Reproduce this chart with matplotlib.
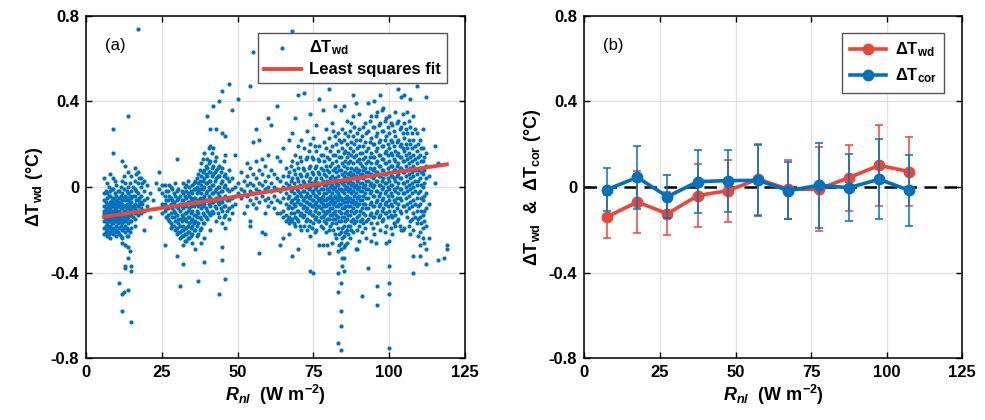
"""Two-panel figure: raw dT_wd scatter vs R_nl with LS fit, and binned means +/- std."""

import matplotlib

matplotlib.use("Agg")
import matplotlib.pyplot as plt  # noqa: E402
import numpy as np  # noqa: E402

BLUE = "#0072BD"
RED = "#E8473A"

# panel (a): scatter, one entry per R_nl column -> dT_wd values
scatter_cols = [
    (6, [0.04, -0.03, -0.06, -0.09, -0.11, -0.12, -0.14, -0.16, -0.19, -0.22]),
    (7, [0.02, -0.03, -0.05, -0.08, -0.10, -0.11, -0.12, -0.13, -0.14, -0.15, -0.17, -0.18, -0.20, -0.23]),
    (8, [0.06, -0.02, -0.04, -0.07, -0.09, -0.10, -0.12, -0.13, -0.14, -0.15, -0.16, -0.18, -0.21, -0.24]),
    (9, [0.27, 0.16, 0.04, -0.01, -0.05, -0.07, -0.09, -0.11, -0.12, -0.13, -0.15, -0.17, -0.19, -0.22]),
    (10, [0.01, -0.04, -0.06, -0.08, -0.10, -0.11, -0.13, -0.14, -0.16, -0.18, -0.20, -0.23]),
    (11, [-0.02, -0.05, -0.07, -0.09, -0.11, -0.12, -0.14, -0.16, -0.19, -0.22, -0.45]),
    (12, [0.12, 0.03, -0.03, -0.06, -0.08, -0.10, -0.12, -0.13, -0.15, -0.17, -0.20, -0.24, -0.26, -0.50, -0.58]),
    (13, [0.10, 0.02, -0.04, -0.06, -0.09, -0.11, -0.12, -0.14, -0.16, -0.18, -0.21, -0.27, -0.37, -0.38]),
    (14, [0.33, 0.07, 0.00, -0.03, -0.06, -0.08, -0.10, -0.12, -0.14, -0.17, -0.20, -0.23, -0.28, -0.33, -0.48]),
    (15, [0.05, -0.02, -0.05, -0.07, -0.10, -0.12, -0.13, -0.16, -0.19, -0.39, -0.37, -0.63]),
    (16, [0.09, 0.03, -0.01, -0.04, -0.08, -0.10, -0.12, -0.15, -0.18]),
    (17, [0.74, 0.07, 0.02, -0.03, -0.06, -0.09, -0.11, -0.13]),
    (18, [0.04, 0.00, -0.04, -0.07, -0.10, -0.12]),
    (19, [0.03, -0.02, -0.06, -0.11, -0.20]),
    (20, [0.01, -0.05, -0.09]),
    (21, [-0.03, -0.14]),
    (22, [-0.06]),
    (23, [0.02]),
    (24, [0.07, -0.01]),
    (25, [0.01, -0.03, -0.08, -0.12]),
    (26, [0.01, -0.04, -0.08, -0.11, -0.27]),
    (27, [-0.02, -0.06, -0.10, -0.13, -0.15]),
    (28, [0.00, -0.05, -0.08, -0.12, -0.17, -0.19]),
    (29, [-0.03, -0.07, -0.11, -0.14, -0.18]),
    (30, [0.13, -0.02, -0.06, -0.09, -0.13, -0.19, -0.22, -0.32]),
    (31, [-0.04, -0.08, -0.11, -0.15, -0.18, -0.21, -0.24, -0.46]),
    (32, [0.02, -0.03, -0.06, -0.10, -0.14, -0.18, -0.20, -0.23, -0.27, -0.36]),
    (33, [0.01, -0.02, -0.05, -0.09, -0.12, -0.16, -0.19, -0.22, -0.25]),
    (34, [0.00, -0.04, -0.07, -0.10, -0.14, -0.17, -0.21, -0.24]),
    (35, [0.01, -0.03, -0.06, -0.11, -0.15, -0.18, -0.22, -0.26]),
    (36, [0.03, -0.01, -0.05, -0.08, -0.13, -0.16, -0.20, -0.29]),
    (37, [0.06, 0.02, -0.02, -0.06, -0.09, -0.12, -0.17, -0.22, -0.44]),
    (38, [0.11, 0.05, 0.01, -0.03, -0.07, -0.10, -0.15, -0.19, -0.26]),
    (39, [0.16, 0.08, 0.04, 0.00, -0.04, -0.08, -0.13, -0.17, -0.24, -0.35]),
    (40, [0.33, 0.13, 0.09, 0.05, 0.02, -0.02, -0.06, -0.11, -0.15]),
    (41, [0.27, 0.19, 0.12, 0.07, 0.03, -0.01, -0.05, -0.09, -0.13, -0.20]),
    (42, [0.38, 0.18, 0.10, 0.06, 0.01, -0.03, -0.07, -0.12]),
    (43, [0.27, 0.14, 0.08, 0.04, -0.01, -0.05, -0.10, -0.16]),
    (44, [0.40, 0.10, 0.05, 0.00, -0.04, -0.08, -0.14, -0.50]),
    (45, [0.45, 0.25, 0.09, 0.03, -0.02, -0.07, -0.11, -0.17, -0.28, -0.34]),
    (46, [0.24, 0.15, 0.06, 0.01, -0.04, -0.09, -0.13, -0.19, -0.43]),
    (47, [0.48, 0.08, 0.03, -0.02, -0.06, -0.10, -0.15]),
    (48, [0.36, 0.04, -0.01, -0.05, -0.09, -0.12]),
    (49, [0.15, 0.00, -0.04, -0.08]),
    (50, [0.41, 0.02, -0.03]),
    (51, [0.07, -0.01, -0.05]),
    (52, [0.03, -0.02, -0.12]),
    (53, [0.11, 0.05, 0.01, -0.04, -0.09]),
    (54, [0.47, 0.09, 0.02, -0.02, -0.06, -0.16, -0.18]),
    (55, [0.63, 0.21, 0.06, 0.01, -0.03, -0.08]),
    (56, [0.27, 0.12, 0.04, -0.01, -0.05, -0.10]),
    (57, [0.22, 0.08, 0.02, -0.02, -0.07, -0.31]),
    (58, [0.54, 0.13, 0.06, 0.01, -0.04, -0.21]),
    (59, [0.10, 0.03, -0.01, -0.06, -0.12, -0.22]),
    (60, [0.32, 0.15, 0.05, 0.00, -0.05, -0.09]),
    (61, [0.29, 0.08, 0.02, -0.02, -0.07]),
    (62, [0.06, 0.00, -0.04, -0.10]),
    (63, [0.38, 0.14, 0.04, -0.01, -0.06, -0.12]),
    (64, [0.12, 0.03, -0.02, -0.07, -0.12, -0.27]),
    (65, [0.18, 0.05, 0.00, -0.05, -0.11, -0.14, -0.24]),
    (66, [0.09, 0.02, -0.03, -0.08, -0.13, -0.16]),
    (67, [0.22, 0.07, 0.01, -0.04, -0.09, -0.14, -0.17, -0.22]),
    (68, [0.73, 0.25, 0.12, 0.04, -0.01, -0.06, -0.10, -0.15, -0.32]),
    (69, [0.32, 0.15, 0.06, 0.00, -0.05, -0.09, -0.14, -0.18]),
    (70, [0.43, 0.19, 0.09, 0.03, -0.02, -0.06, -0.11, -0.16, -0.29]),
    (71, [0.22, 0.12, 0.05, 0.00, -0.04, -0.08, -0.12, -0.20]),
    (72, [0.44, 0.18, 0.08, 0.02, -0.02, -0.05, -0.09, -0.13, -0.18]),
    (73, [0.26, 0.14, 0.06, 0.01, -0.03, -0.07, -0.10, -0.15, -0.20]),
    (74, [0.34, 0.20, 0.10, 0.04, 0.00, -0.04, -0.08, -0.11, -0.16, -0.23, -0.39]),
    (75, [0.23, 0.13, 0.06, 0.01, -0.03, -0.06, -0.09, -0.13, -0.17, -0.40]),
    (76, [0.29, 0.17, 0.10, 0.04, 0.00, -0.04, -0.07, -0.10, -0.14, -0.20]),
    (77, [0.41, 0.19, 0.12, 0.06, 0.01, -0.03, -0.06, -0.09, -0.12, -0.16, -0.27]),
    (78, [0.36, 0.15, 0.08, 0.03, -0.01, -0.04, -0.08, -0.11, -0.14, -0.19, -0.27]),
    (79, [0.27, 0.18, 0.10, 0.05, 0.01, -0.03, -0.06, -0.09, -0.12, -0.17, -0.21]),
    (80, [0.46, 0.23, 0.13, 0.07, 0.02, -0.02, -0.05, -0.08, -0.11, -0.15, -0.20, -0.31]),
    (81, [0.30, 0.19, 0.11, 0.05, 0.01, -0.03, -0.06, -0.10, -0.13, -0.17, -0.26]),
    (82, [0.38, 0.24, 0.15, 0.09, 0.04, 0.00, -0.04, -0.07, -0.11, -0.15, -0.22]),
    (83, [0.25, 0.17, 0.10, 0.05, 0.01, -0.03, -0.06, -0.09, -0.14, -0.19, -0.30, -0.40, -0.49, -0.73]),
    (84, [0.36, 0.21, 0.14, 0.08, 0.03, -0.01, -0.05, -0.08, -0.12, -0.16, -0.21, -0.26, -0.29,
          -0.45, -0.58, -0.65, -0.76]),
    (85, [0.38, 0.22, 0.16, 0.10, 0.05, 0.01, -0.03, -0.07, -0.10, -0.14, -0.18, -0.23, -0.28, -0.33, -0.39]),
    (86, [0.31, 0.20, 0.14, 0.09, 0.04, 0.00, -0.04, -0.07, -0.11, -0.15, -0.20, -0.26]),
    (87, [0.26, 0.18, 0.12, 0.07, 0.03, -0.01, -0.05, -0.09, -0.13, -0.18, -0.24]),
    (88, [0.43, 0.33, 0.24, 0.17, 0.11, 0.06, 0.02, -0.02, -0.06, -0.10, -0.15, -0.21]),
    (89, [0.39, 0.22, 0.15, 0.09, 0.05, 0.01, -0.03, -0.07, -0.11, -0.16, -0.29]),
    (90, [0.34, 0.27, 0.19, 0.13, 0.08, 0.04, 0.00, -0.04, -0.08, -0.13, -0.18, -0.25]),
    (91, [0.24, 0.16, 0.10, 0.06, 0.02, -0.02, -0.06, -0.10, -0.15, -0.21, -0.51]),
    (92, [0.30, 0.21, 0.14, 0.09, 0.05, 0.01, -0.03, -0.08, -0.13, -0.19]),
    (93, [0.39, 0.26, 0.18, 0.12, 0.07, 0.03, -0.01, -0.05, -0.10, -0.15, -0.38]),
    (94, [0.33, 0.23, 0.16, 0.11, 0.06, 0.02, -0.02, -0.07, -0.12, -0.17, -0.25]),
    (95, [0.40, 0.28, 0.20, 0.14, 0.09, 0.05, 0.01, -0.04, -0.09, -0.14, -0.22]),
    (96, [0.35, 0.25, 0.18, 0.12, 0.07, 0.03, -0.02, -0.06, -0.11, -0.17, -0.46, -0.55]),
    (97, [0.43, 0.30, 0.22, 0.15, 0.10, 0.05, 0.01, -0.03, -0.08, -0.13, -0.20]),
    (98, [0.37, 0.26, 0.19, 0.13, 0.08, 0.04, 0.00, -0.05, -0.10, -0.15]),
    (99, [0.49, 0.32, 0.24, 0.17, 0.11, 0.06, 0.02, -0.02, -0.07, -0.12, -0.18, -0.26]),
    (100, [0.33, 0.25, 0.18, 0.12, 0.07, 0.03, -0.01, -0.06, -0.11, -0.25, -0.37, -0.45, -0.50, -0.75]),
    (101, [0.29, 0.21, 0.15, 0.10, 0.05, 0.01, -0.04, -0.09, -0.14, -0.22]),
    (102, [0.35, 0.24, 0.17, 0.12, 0.08, 0.03, -0.02, -0.07, -0.13, -0.18]),
    (103, [0.46, 0.31, 0.22, 0.16, 0.11, 0.06, 0.02, -0.03, -0.08, -0.15]),
    (104, [0.42, 0.28, 0.20, 0.14, 0.09, 0.04, -0.01, -0.06, -0.12, -0.20]),
    (105, [0.43, 0.30, 0.23, 0.17, 0.12, 0.07, 0.02, -0.03, -0.09, -0.19]),
    (106, [0.35, 0.25, 0.18, 0.13, 0.08, 0.03, -0.02, -0.08, -0.14]),
    (107, [0.41, 0.28, 0.20, 0.14, 0.09, 0.04, -0.01, -0.07, -0.16, -0.22]),
    (108, [0.33, 0.22, 0.15, 0.10, 0.05, 0.00, -0.06, -0.12, -0.20, -0.32, -0.40]),
    (109, [0.47, 0.25, 0.17, 0.11, 0.06, 0.01, -0.05, -0.11, -0.17]),
    (110, [0.22, 0.15, 0.09, 0.04, -0.02, -0.08, -0.14, -0.21, -0.27, -0.32]),
    (111, [0.27, 0.18, 0.12, 0.06, 0.00, -0.06, -0.13, -0.19, -0.24]),
    (112, [0.42, 0.16, 0.10, 0.04, -0.03, -0.10, -0.18, -0.29, -0.36]),
    (113, [0.05, -0.08, -0.24]),
    (115, [0.19, 0.02]),
    (116, [0.11, -0.34]),
    (118, [-0.33]),
    (119, [-0.27, -0.29]),
]

# points lying between the columns above, where the cloud is dense
scatter_cols_mid = [
    (6.5, [-0.02, -0.07, -0.10, -0.13, -0.15, -0.18, -0.21]),
    (7.5, [0.00, -0.04, -0.09, -0.11, -0.12, -0.14, -0.16, -0.19, -0.22]),
    (8.5, [-0.01, -0.06, -0.08, -0.11, -0.13, -0.15, -0.17, -0.20]),
    (9.5, [0.03, -0.03, -0.08, -0.10, -0.12, -0.14, -0.16, -0.21]),
    (10.5, [-0.02, -0.07, -0.09, -0.12, -0.15, -0.17, -0.21]),
    (11.5, [0.00, -0.04, -0.08, -0.10, -0.13, -0.15, -0.18, -0.23]),
    (12.5, [0.05, -0.01, -0.05, -0.09, -0.11, -0.14, -0.16, -0.19, -0.49]),
    (13.5, [-0.02, -0.05, -0.08, -0.10, -0.13, -0.15, -0.19, -0.23]),
    (14.5, [0.02, -0.04, -0.07, -0.09, -0.11, -0.13, -0.16, -0.21, -0.30]),
    (15.5, [0.00, -0.04, -0.09, -0.11, -0.14]),
    (16.5, [0.06, -0.02, -0.06, -0.11]),
    (17.5, [0.04, -0.05, -0.08]),
    (18.5, [0.02, -0.08]),
    (26.5, [-0.02, -0.06, -0.10, -0.14]),
    (27.5, [0.01, -0.04, -0.09, -0.16]),
    (28.5, [-0.01, -0.06, -0.10, -0.14, -0.18]),
    (29.5, [0.02, -0.04, -0.09, -0.12, -0.16, -0.20]),
    (30.5, [-0.01, -0.05, -0.10, -0.15, -0.17, -0.21]),
    (31.5, [-0.02, -0.06, -0.09, -0.13, -0.16, -0.20, -0.23]),
    (32.5, [0.00, -0.04, -0.08, -0.12, -0.15, -0.19, -0.22, -0.25]),
    (33.5, [0.03, -0.03, -0.07, -0.11, -0.14, -0.18, -0.21, -0.24]),
    (34.5, [-0.02, -0.05, -0.09, -0.12, -0.16, -0.19, -0.23]),
    (35.5, [0.02, -0.01, -0.05, -0.09, -0.13, -0.17, -0.20]),
    (36.5, [0.04, 0.00, -0.03, -0.07, -0.11, -0.14, -0.18, -0.23]),
    (37.5, [0.08, 0.03, -0.01, -0.05, -0.08, -0.14, -0.20]),
    (38.5, [0.13, 0.07, 0.03, -0.01, -0.05, -0.09, -0.12, -0.17]),
    (39.5, [0.10, 0.06, 0.02, -0.03, -0.06, -0.10, -0.14]),
    (40.5, [0.18, 0.11, 0.07, 0.03, 0.00, -0.04, -0.08, -0.12]),
    (41.5, [0.16, 0.09, 0.05, 0.01, -0.03, -0.07, -0.11]),
    (42.5, [0.12, 0.07, 0.03, -0.02, -0.06, -0.09]),
    (43.5, [0.09, 0.05, 0.00, -0.03, -0.07, -0.12]),
    (44.5, [0.07, 0.02, -0.02, -0.06, -0.10]),
    (45.5, [0.12, 0.05, 0.00, -0.05, -0.09, -0.14]),
    (46.5, [0.04, -0.01, -0.06, -0.11]),
    (66.5, [0.05, 0.00, -0.05, -0.10, -0.15]),
    (67.5, [0.10, 0.03, -0.02, -0.07, -0.12, -0.16]),
    (68.5, [0.08, 0.02, -0.03, -0.08, -0.12, -0.17]),
    (69.5, [0.11, 0.04, -0.01, -0.04, -0.07, -0.11, -0.15]),
    (70.5, [0.14, 0.06, 0.01, -0.03, -0.08, -0.13, -0.18]),
    (71.5, [0.09, 0.03, -0.02, -0.06, -0.10, -0.14]),
    (72.5, [0.13, 0.05, 0.00, -0.04, -0.07, -0.11, -0.16]),
    (73.5, [0.17, 0.09, 0.03, -0.01, -0.05, -0.08, -0.12, -0.18]),
    (74.5, [0.14, 0.07, 0.02, -0.02, -0.06, -0.09, -0.13, -0.19]),
    (75.5, [0.19, 0.09, 0.03, -0.01, -0.04, -0.08, -0.11, -0.15, -0.21]),
    (76.5, [0.13, 0.07, 0.02, -0.02, -0.05, -0.09, -0.12, -0.16]),
    (77.5, [0.15, 0.09, 0.04, -0.01, -0.05, -0.07, -0.10, -0.14, -0.18]),
    (78.5, [0.21, 0.12, 0.06, 0.01, -0.03, -0.06, -0.09, -0.13, -0.16]),
    (79.5, [0.14, 0.08, 0.03, -0.01, -0.05, -0.08, -0.11, -0.15, -0.27]),
    (80.5, [0.17, 0.10, 0.04, 0.00, -0.04, -0.07, -0.10, -0.13, -0.18]),
    (81.5, [0.26, 0.15, 0.08, 0.03, -0.01, -0.05, -0.08, -0.12, -0.15, -0.20]),
    (82.5, [0.20, 0.12, 0.07, 0.02, -0.02, -0.05, -0.09, -0.13, -0.17, -0.24]),
    (83.5, [0.22, 0.14, 0.08, 0.03, -0.01, -0.04, -0.08, -0.11, -0.16, -0.22, -0.27]),
    (84.5, [0.27, 0.18, 0.11, 0.06, 0.02, -0.02, -0.06, -0.10, -0.14, -0.19, -0.24, -0.33, -0.37]),
    (85.5, [0.25, 0.17, 0.12, 0.07, 0.03, -0.01, -0.05, -0.09, -0.12, -0.16, -0.21, -0.27]),
    (86.5, [0.24, 0.16, 0.11, 0.06, 0.02, -0.02, -0.06, -0.09, -0.13, -0.18, -0.22]),
    (87.5, [0.30, 0.21, 0.15, 0.09, 0.05, 0.01, -0.03, -0.07, -0.11, -0.16, -0.20]),
    (88.5, [0.28, 0.20, 0.14, 0.08, 0.04, 0.00, -0.04, -0.08, -0.12, -0.17]),
    (89.5, [0.25, 0.18, 0.12, 0.07, 0.03, -0.01, -0.05, -0.09, -0.14, -0.20, -0.29]),
    (90.5, [0.22, 0.16, 0.11, 0.06, 0.02, -0.02, -0.06, -0.11, -0.16]),
    (91.5, [0.28, 0.19, 0.13, 0.08, 0.04, 0.00, -0.04, -0.08, -0.12, -0.17]),
    (92.5, [0.25, 0.17, 0.11, 0.07, 0.03, -0.01, -0.05, -0.10, -0.16, -0.24]),
    (93.5, [0.31, 0.21, 0.14, 0.09, 0.05, 0.01, -0.03, -0.08, -0.13]),
    (94.5, [0.28, 0.20, 0.14, 0.08, 0.04, 0.00, -0.04, -0.09, -0.14, -0.19]),
    (95.5, [0.33, 0.24, 0.17, 0.11, 0.07, 0.03, -0.02, -0.07, -0.12, -0.26]),
    (96.5, [0.29, 0.21, 0.15, 0.10, 0.05, 0.01, -0.04, -0.09, -0.14]),
    (97.5, [0.36, 0.26, 0.19, 0.13, 0.08, 0.03, -0.01, -0.06, -0.11, -0.16]),
    (98.5, [0.31, 0.22, 0.16, 0.11, 0.06, 0.02, -0.03, -0.08, -0.12, -0.21]),
    (99.5, [0.28, 0.20, 0.15, 0.09, 0.04, 0.00, -0.04, -0.09, -0.14]),
    (100.5, [0.30, 0.22, 0.16, 0.10, 0.05, 0.01, -0.03, -0.08, -0.13, -0.19]),
    (101.5, [0.26, 0.19, 0.13, 0.08, 0.04, -0.01, -0.06, -0.11, -0.17]),
    (102.5, [0.30, 0.21, 0.15, 0.10, 0.05, 0.00, -0.05, -0.10, -0.16]),
    (103.5, [0.27, 0.19, 0.14, 0.09, 0.04, -0.01, -0.05, -0.11, -0.18]),
    (104.5, [0.34, 0.25, 0.18, 0.12, 0.07, 0.02, -0.03, -0.09, -0.20]),
    (105.5, [0.27, 0.20, 0.15, 0.10, 0.05, 0.00, -0.05, -0.11]),
    (106.5, [0.31, 0.22, 0.16, 0.11, 0.06, 0.01, -0.04, -0.10, -0.18]),
    (107.5, [0.25, 0.18, 0.12, 0.07, 0.02, -0.03, -0.09, -0.15]),
    (108.5, [0.27, 0.19, 0.13, 0.08, 0.03, -0.02, -0.08, -0.14]),
    (109.5, [0.20, 0.14, 0.08, 0.03, -0.03, -0.09, -0.15, -0.23]),
    (110.5, [0.18, 0.12, 0.07, 0.01, -0.05, -0.11, -0.17]),
    (111.5, [0.14, 0.08, 0.02, -0.04, -0.11, -0.16, -0.26]),
]

# least squares fit line, end points as drawn
fit_rnl = [6, 119]
fit_dt = [-0.139, 0.106]

# panel (b): binned means and standard deviations
bin_rnl = [7.5, 17.5, 27.5, 37.5, 47.5, 57.5, 67.5, 77.5, 87.5, 97.5, 107.5]
wd_mean = [-0.139, -0.070, -0.125, -0.040, -0.017, 0.037, -0.011, -0.010, 0.044, 0.101, 0.072]
wd_std = [0.100, 0.147, 0.100, 0.149, 0.145, 0.166, 0.137, 0.195, 0.154, 0.190, 0.163]
cor_mean = [-0.012, 0.045, -0.045, 0.025, 0.030, 0.031, -0.017, 0.008, -0.003, 0.036, -0.016]
cor_std = [0.100, 0.148, 0.100, 0.147, 0.145, 0.166, 0.134, 0.198, 0.155, 0.187, 0.166]

X_TICKS = [0, 25, 50, 75, 100, 125]
Y_TICKS = [-0.8, -0.4, 0, 0.4, 0.8]
Y_TICKLABELS = ["-0.8", "-0.4", "0", "0.4", "0.8"]

plt.rcParams["font.family"] = ["Liberation Sans", "DejaVu Sans"]
plt.rcParams["mathtext.fontset"] = "custom"
plt.rcParams["mathtext.rm"] = "Liberation Sans"
plt.rcParams["mathtext.bf"] = "Liberation Sans:bold"
plt.rcParams["mathtext.bfit"] = "Liberation Sans:italic:bold"
plt.rcParams["mathtext.it"] = "Liberation Sans:italic"

XLABEL = r"$\mathbfit{R}_{\mathbfit{nl}}$  (W m$^{\mathbf{-2}}$)"
LEG = dict(fontsize=12, fancybox=False, edgecolor="#555555", framealpha=1, borderaxespad=0,
           loc="upper right", bbox_to_anchor=(0.952, 0.95), handletextpad=0.5)


def _style(ax):
    ax.set_xlim(0, 125)
    ax.set_ylim(-0.8, 0.8)
    ax.set_xticks(X_TICKS)
    ax.set_yticks(Y_TICKS)
    ax.set_yticklabels(Y_TICKLABELS)
    ax.tick_params(direction="in", top=True, right=True, length=4, width=1, labelsize=12, pad=5)
    for lab in ax.get_xticklabels() + ax.get_yticklabels():
        lab.set_fontweight("bold")
    ax.grid(True, color="#e3e3e3", linewidth=1)
    ax.set_axisbelow(True)
    for sp in ax.spines.values():
        sp.set_linewidth(1.1)
    ax.set_xlabel(XLABEL, fontsize=13, fontweight="bold", labelpad=2)


def _flatten(cols):
    xs = np.concatenate([np.full(len(v), x, dtype=float) for x, v in cols])
    ys = np.concatenate([np.asarray(v, dtype=float) for _, v in cols])
    return xs, ys


fig = plt.figure(figsize=(9.85, 4.2), dpi=100)
ax1 = fig.add_axes([0.0873, 0.1469, 0.3848, 0.8157])
ax2 = fig.add_axes([0.5932, 0.1469, 0.3838, 0.8157])

# (a) scatter + fit
x1, y1 = _flatten(scatter_cols)
x2, y2 = _flatten(scatter_cols_mid)
ax1.scatter(np.concatenate([x1, x2]), np.concatenate([y1, y2]), s=9, color=BLUE, linewidths=0,
            label=r"$\mathbf{\Delta T_{wd}}$", zorder=2)
ax1.plot(fit_rnl, fit_dt, color=RED, lw=2.8, label="Least squares fit", zorder=3)
_style(ax1)
ax1.set_ylabel(r"$\mathbf{\Delta T_{wd}}$ (°C)", fontsize=13, fontweight="bold", labelpad=4)
ax1.text(0.05, 0.914, "(a)", transform=ax1.transAxes, fontsize=12, va="center")
leg1 = ax1.legend(handlelength=2.2, borderpad=0.35, labelspacing=0.3, **LEG)
for t in leg1.get_texts():
    t.set_fontweight("bold")

# (b) binned means with std bars
ax2.axhline(0, color="black", lw=1.8, ls=(0, (5, 3)), zorder=2)
for mean, std, col, lab, z in [(wd_mean, wd_std, RED, r"$\mathbf{\Delta T_{wd}}$", 3),
                               (cor_mean, cor_std, BLUE, r"$\mathbf{\Delta T_{cor}}$", 4)]:
    ax2.errorbar(bin_rnl, mean, yerr=std, fmt="none", ecolor=col, elinewidth=1.1, capsize=3,
                 capthick=1.1, zorder=z)
    ax2.plot(bin_rnl, mean, color=col, lw=2.6, marker="o", ms=7.5, label=lab, zorder=z)
_style(ax2)
ax2.set_ylabel(r"$\mathbf{\Delta T_{wd}}$  &  $\mathbf{\Delta T_{cor}}$ (°C)", fontsize=13,
               fontweight="bold", labelpad=4)
ax2.text(0.05, 0.914, "(b)", transform=ax2.transAxes, fontsize=12, va="center")
ax2.legend(handlelength=2.2, borderpad=0.45, labelspacing=0.45, **LEG)

fig.savefig("out.png", dpi=100)
plt.close(fig)
